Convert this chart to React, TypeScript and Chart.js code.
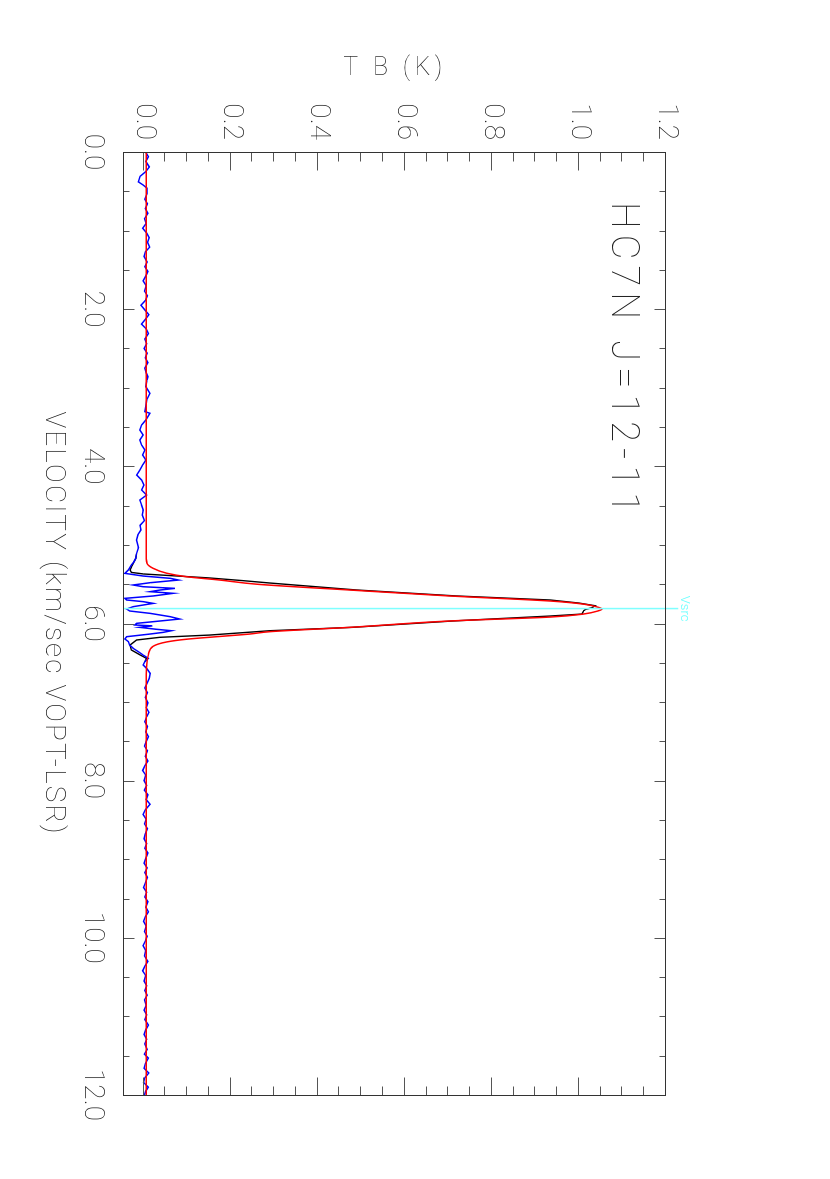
import { useEffect, useRef } from 'react';
import { Chart, registerables } from 'chart.js';

Chart.register(...registerables);

// ---- axes ----
const velocityRange = [0, 12];
const tbRange = [-0.045, 1.2];
const velocityTicks = [0, 2, 4, 6, 8, 10, 12];
const velocityTickLabels = ['0.0', '2.0', '4.0', '6.0', '8.0', '10.0', '12.0'];
const tbTicks = [0, 0.2, 0.4, 0.6, 0.8, 1.0, 1.2];
const tbTickLabels = ['0.0', '0.2', '0.4', '0.6', '0.8', '1.0', '1.2'];
const velocityMinorStep = 0.5;
const tbMinorStep = 0.05;

const titleText = 'HC7N J=12-11';
const xTitle = 'VELOCITY (km/sec VOPT-LSR)';
const yTitle = 'T B (K)';
const vsrcLabel = 'Vsrc';
const vsrcVel = [5.81, 5.81];
const vsrcTb = [-0.045, 1.228];

// ---- blue spectrum ----
const blueVel = [
  0.0, 0.06, 0.12, 0.19, 0.25, 0.31, 0.38, 0.42, 0.46, 0.53,
  0.6, 0.66, 0.72, 0.78, 0.85, 0.91, 0.97, 1.03, 1.09, 1.15, 1.21, 1.27, 1.33, 1.4, 1.46, 1.52,
  1.58, 1.64, 1.7, 1.77, 1.83, 1.89, 1.95, 2.01, 2.07, 2.13, 2.19, 2.25, 2.31, 2.38, 2.44, 2.5,
  2.56, 2.62, 2.68, 2.75, 2.81, 2.86,
  2.901, 2.986, 3.071, 3.156, 3.241, 3.304, 3.325, 3.41, 3.474, 3.538, 3.601, 3.665, 3.729, 3.792,
  3.856, 3.92, 3.983, 4.047, 4.111, 4.174, 4.238, 4.301, 4.365, 4.429, 4.492, 4.556,
  4.62, 4.69, 4.75, 4.81, 4.87,
  4.938, 5.035, 5.107, 5.171, 5.213, 5.256, 5.319, 5.362, 5.396, 5.425, 5.447, 5.481, 5.51, 5.532,
  5.553, 5.574, 5.595, 5.616, 5.65, 5.68, 5.701, 5.722, 5.744, 5.786, 5.816, 5.841, 5.871, 5.913,
  5.943, 5.977, 5.998, 6.019, 6.03, 6.049, 6.074, 6.092, 6.113, 6.134, 6.168, 6.197, 6.231, 6.274,
  6.316, 6.359, 6.401, 6.444, 6.486, 6.528, 6.571, 6.634, 6.698,
  6.76, 6.82, 6.88, 6.94, 7.01, 7.07, 7.13, 7.19, 7.25, 7.31, 7.38, 7.44, 7.5, 7.56, 7.62, 7.69,
  7.75, 7.81, 7.87, 7.93, 8.0, 8.06, 8.12, 8.18, 8.24, 8.3, 8.37, 8.43, 8.49, 8.55, 8.61, 8.68,
  8.74, 8.8, 8.86, 8.92, 8.99, 9.05, 9.11, 9.17, 9.23, 9.3, 9.36, 9.42, 9.48, 9.54, 9.61, 9.67,
  9.73, 9.79, 9.85, 9.92, 9.98, 10.04, 10.1, 10.16, 10.23, 10.3, 10.36, 10.42, 10.48, 10.55,
  10.61, 10.67, 10.73, 10.79, 10.86, 10.92, 10.98, 11.04, 11.11, 11.17, 11.23, 11.29, 11.35,
  11.42, 11.48, 11.53, 11.6, 11.66, 11.72, 11.78, 11.84, 11.9, 11.95, 12.0,
];
const blueTb = [
  0.005, 0.011, 0.005, 0.013, 0.005, -0.008, -0.012, -0.001, 0.008, 0.008,
  0.003, 0.009, 0.004, 0.01, 0.002, 0.006, -0.002, 0.007, 0.013, 0.009, 0.014, 0.004, 0.001, 0.008, 0.003, 0.01,
  0.005, -0.001, 0.006, 0.002, 0.009, 0.004, -0.006, 0.003, 0.012, 0.004, -0.005, 0.006, 0.011, 0.003, 0.007, 0.001,
  0.008, 0.004, 0.01, 0.003, 0.006, 0.01,
  0.008, 0.005, 0.0145, 0.007, 0.005, 0.003, 0.0145, 0.005, -0.0046, -0.0085, -0.001, -0.0085, -0.0046, 0.003,
  -0.0023, 0.005, -0.0023, -0.0085, -0.016, -0.0046, 0.001, -0.0046, 0.007, -0.0085, -0.0046, -0.001,
  -0.003, 0.002, -0.008, -0.006, -0.013,
  -0.016, -0.012, -0.016, -0.018, -0.022, -0.028, -0.035, -0.043, -0.001, 0.061, 0.08, 0.015, -0.024, -0.001,
  0.072, 0.038, 0.015, 0.068, 0.022, -0.043, -0.039, -0.001, 0.022, -0.024, -0.039, -0.032, 0.015, 0.061,
  0.083, 0.022, -0.016, -0.02, 0.02, -0.009, 0.03, 0.064, 0.045, 0.015, -0.039, -0.043, -0.035, -0.032,
  -0.024, -0.012, -0.001, 0.011, 0.003, -0.001, 0.007, 0.015, 0.013,
  0.008, 0.003, 0.009, 0.004, 0.01, 0.006, 0.012, 0.007, 0.003, 0.009, 0.005, 0.011, 0.006, 0.002, 0.009, 0.004,
  0.01, 0.003, -0.002, 0.005, 0.001, 0.007, 0.002, 0.01, 0.006, 0.015, 0.004, -0.001, 0.006, 0.002, 0.009, 0.004,
  0.001, 0.007, 0.003, 0.01, 0.005, 0.001, 0.008, 0.003, 0.009, 0.004, 0.0, 0.007, 0.003, 0.01, 0.005, 0.011,
  0.004, 0.0, 0.006, 0.002, 0.008, 0.004, -0.001, 0.005, 0.002, 0.01, 0.003, -0.002, 0.005, 0.001,
  0.007, 0.003, 0.008, 0.002, 0.006, 0.001, 0.007, 0.003, 0.011, 0.005, 0.001, 0.007, 0.003,
  0.008, 0.002, 0.011, 0.004, 0.001, 0.012, 0.003, 0.0, 0.011, 0.005, 0.002,
];

// ---- black spectrum (line region) ----
const blackVel = [
  5.107, 5.171, 5.213, 5.27, 5.32, 5.35, 5.37, 5.39, 5.42, 5.455, 5.485, 5.574, 5.65, 5.701, 5.74,
  5.774, 5.8, 5.82, 5.837, 5.88, 5.905, 5.968, 6.049, 6.092, 6.12, 6.147, 6.176, 6.21, 6.274, 6.337,
  6.4, 6.444, 6.486,
];
const blackTb = [
  -0.016, -0.018, -0.022, -0.027, -0.031, -0.028, 0.0, 0.06, 0.15, 0.229, 0.29, 0.49, 0.72, 0.934, 1.0,
  1.037, 1.03, 1.015, 1.011, 1.007, 0.934, 0.71, 0.48, 0.29, 0.22, 0.152, 0.037, -0.016, -0.031, -0.028,
  -0.008, 0.007, 0.003,
];

// ---- red fit ----
const redVel = [
  0, 5.1, 5.234, 5.298, 5.36, 5.405, 5.447, 5.5, 5.574, 5.65, 5.714, 5.753, 5.795, 5.816, 5.838,
  5.88, 5.918, 5.968, 6.049, 6.104, 6.134, 6.165, 6.2, 6.235, 6.29, 6.4, 6.53, 6.7, 12,
];
const redTb = [
  0.006, 0.006, 0.008, 0.022, 0.053, 0.099, 0.175, 0.26, 0.474, 0.704, 0.934, 1.01, 1.045, 1.053, 1.045,
  1.01, 0.934, 0.704, 0.474, 0.29, 0.244, 0.175, 0.099, 0.053, 0.022, 0.011, 0.007, 0.006, 0.006,
];

const pts = (xs: number[], ys: number[]) => xs.map((x, i) => ({ x, y: ys[i] }));

const FONT = 'Roboto';
const TEXT = '#222';

function fitSpacing(ctx: CanvasRenderingContext2D, text: string, target: number) {
  (ctx as any).letterSpacing = '0px';
  const w = ctx.measureText(text).width;
  const ls = (target - w) / Math.max(1, text.length - 1);
  (ctx as any).letterSpacing = ls.toFixed(2) + 'px';
}

const decor = {
  id: 'decor',
  afterDraw(chart: any) {
    const { ctx, chartArea: a, scales } = chart;
    const xs = scales.x;
    const ys = scales.y;
    const L = Math.round(a.left) + 0.5;
    const R = Math.round(a.right) + 0.5;
    const T = Math.round(a.top) + 0.5;
    const B = Math.round(a.bottom) + 0.5;
    ctx.save();
    const line = (x1: number, y1: number, x2: number, y2: number) => {
      ctx.beginPath();
      ctx.moveTo(x1, y1);
      ctx.lineTo(x2, y2);
      ctx.stroke();
    };
    ctx.lineWidth = 1;
    ctx.strokeStyle = '#555';
    const nv = Math.round((velocityRange[1] - velocityRange[0]) / velocityMinorStep);
    for (let k = 0; k <= nv; k++) {
      const v = velocityRange[0] + k * velocityMinorStep;
      const major = velocityTicks.some((t) => Math.abs(t - v) < 1e-6);
      const len = major ? 11 : 6;
      const px = Math.round(xs.getPixelForValue(v)) + 0.5;
      line(px, B, px, B - len);
      line(px, T, px, T + len);
    }
    const nt = Math.round(tbTicks[tbTicks.length - 1] / tbMinorStep);
    for (let k = 0; k <= nt; k++) {
      const t = k * tbMinorStep;
      const major = tbTicks.some((q) => Math.abs(q - t) < 1e-6);
      const len = major ? 18 : 9;
      const py = Math.round(ys.getPixelForValue(t)) + 0.5;
      line(L, py, L + len, py);
      line(R, py, R - len, py);
    }
    ctx.strokeStyle = '#333';
    ctx.strokeRect(L, T, R - L, B - T);

    ctx.fillStyle = TEXT;
    // plot title
    ctx.font = `100 38px ${FONT}`;
    ctx.textAlign = 'left';
    ctx.textBaseline = 'alphabetic';
    fitSpacing(ctx, titleText, 311);
    ctx.fillText(titleText, a.left + 50, a.top + 54);

    // x title
    ctx.font = `100 28px ${FONT}`;
    ctx.textAlign = 'center';
    fitSpacing(ctx, xTitle, 422);
    ctx.fillText(xTitle, (a.left + a.right) / 2, a.bottom + 78);

    // y title
    ctx.save();
    ctx.font = `100 25px ${FONT}`;
    fitSpacing(ctx, yTitle, 99);
    ctx.translate(a.left - 77, (a.top + a.bottom) / 2);
    ctx.rotate(-Math.PI / 2);
    ctx.textAlign = 'center';
    ctx.fillText(yTitle, 0, 0);
    ctx.restore();

    // Vsrc label
    ctx.font = `300 13px ${FONT}`;
    (ctx as any).letterSpacing = '0px';
    ctx.fillStyle = '#66ffff';
    ctx.textAlign = 'center';
    ctx.fillText(vsrcLabel, xs.getPixelForValue(vsrcVel[0]), ys.getPixelForValue(vsrcTb[1]) - 3);
    ctx.restore();
  },
};

export default function App() {
  const ref = useRef<HTMLCanvasElement | null>(null);
  useEffect(() => {
    if (!ref.current) return;
    const tickFont = { family: FONT, size: 28, weight: 100 as any };
    const chart = new Chart(ref.current, {
      type: 'scatter',
      data: {
        datasets: [
          {
            label: 'Vsrc',
            data: pts(vsrcVel, vsrcTb),
            showLine: true,
            borderColor: '#7fffff',
            borderWidth: 1.5,
            pointRadius: 0,
            clip: false as any,
          },
          {
            label: 'fit',
            data: pts(redVel, redTb),
            showLine: true,
            borderColor: '#ff0000',
            borderWidth: 1.5,
            pointRadius: 0,
            cubicInterpolationMode: 'monotone',
          },
          {
            label: 'blue',
            data: pts(blueVel, blueTb),
            showLine: true,
            borderColor: '#0000ff',
            borderWidth: 1.5,
            pointRadius: 0,
          },
          {
            label: 'black',
            data: pts(blackVel, blackTb),
            showLine: true,
            borderColor: '#000000',
            borderWidth: 1.4,
            pointRadius: 0,
          },
        ],
      },
      options: {
        animation: false,
        responsive: false,
        devicePixelRatio: 1,
        events: [],
        layout: { padding: { left: 0, top: 164, right: 84, bottom: 0 } },
        plugins: { legend: { display: false }, tooltip: { enabled: false } },
        scales: {
          x: {
            type: 'linear',
            position: 'bottom',
            min: velocityRange[0],
            max: velocityRange[1],
            grid: { display: false, drawTicks: false },
            border: { display: false },
            afterBuildTicks: (s: any) => {
              s.ticks = velocityTicks.map((value) => ({ value }));
            },
            afterFit: (s: any) => {
              s.height = 124;
            },
            ticks: {
              autoSkip: false,
              maxRotation: 0,
              minRotation: 0,
              padding: 15,
              color: TEXT,
              font: tickFont,
              callback: (_v: any, i: number) => velocityTickLabels[i],
            },
          },
          y: {
            type: 'linear',
            position: 'left',
            min: tbRange[0],
            max: tbRange[1],
            grid: { display: false, drawTicks: false },
            border: { display: false },
            afterBuildTicks: (s: any) => {
              s.ticks = tbTicks.map((value) => ({ value }));
            },
            afterFit: (s: any) => {
              s.width = 152;
            },
            ticks: {
              autoSkip: false,
              padding: 12,
              color: TEXT,
              font: tickFont,
              callback: (_v: any, i: number) => tbTickLabels[i],
            },
          },
        },
      } as any,
      plugins: [decor],
    });
    return () => chart.destroy();
  }, []);

  return (
    <div
      style={{
        position: 'fixed',
        left: 0,
        top: 0,
        width: 1179,
        height: 830,
        background: '#fff',
        transformOrigin: '0 0',
        transform: 'translate(830px, 0px) rotate(90deg)',
      }}
    >
      <canvas ref={ref} width={1179} height={830} style={{ display: 'block' }} />
    </div>
  );
}
